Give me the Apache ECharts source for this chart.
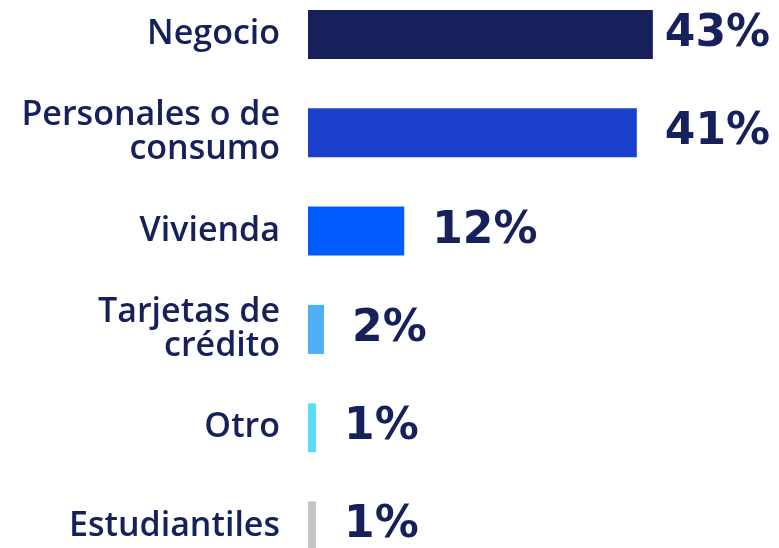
<!DOCTYPE html>
<html>
<head>
<meta charset="utf-8">
<script src="https://cdn.jsdelivr.net/npm/echarts@6/dist/echarts.min.js"></script>
<style>
  html, body { margin: 0; padding: 0; background: #fff; }
  #main { width: 779px; height: 548px; }
</style>
</head>
<body>
<div id="main"></div>
<script>
// categorias y valores (%)
const categories = ["Negocio", "Personales o de\nconsumo", "Vivienda", "Tarjetas de\ncrédito", "Otro", "Estudiantiles"];
const values = [43, 41, 12, 2, 1, 1];
const barColors = ["#16205b", "#1a3fcc", "#005cff", "#4db0f5", "#5ddcf9", "#c4c4c4"];

const navy = "#16205b";

let chart = echarts.init(document.getElementById("main"));

let seriesData = values.map((v, i) => ({
    value: v,
    itemStyle: { color: barColors[i] },
    label: { distance: i === 0 ? 12 : 28 }
}));

let option = {
    animation: false,
    grid: { left: 308, right: 70, top: 34.5, bottom: 548 - 34.5 - 491.5, containLabel: false },
    xAxis: {
        type: "value",
        min: 0,
        max: 50,
        show: false
    },
    yAxis: {
        type: "category",
        data: categories,
        inverse: true,
        boundaryGap: false,
        axisLine: { show: false },
        axisTick: { show: false },
        axisLabel: {
            margin: 28,
            color: navy,
            fontFamily: "Open Sans",
            fontWeight: 600,
            fontSize: 34,
            lineHeight: 34,
            align: "right"
        }
    },
    series: [
        {
            type: "bar",
            data: seriesData,
            barWidth: 49,
            label: {
                show: true,
                position: "right",
                formatter: "{c}%",
                color: navy,
                fontFamily: "DejaVu Sans",
                fontWeight: "bold",
                fontSize: 44
            }
        }
    ]
};
chart.setOption(option);
</script>
</body>
</html>
